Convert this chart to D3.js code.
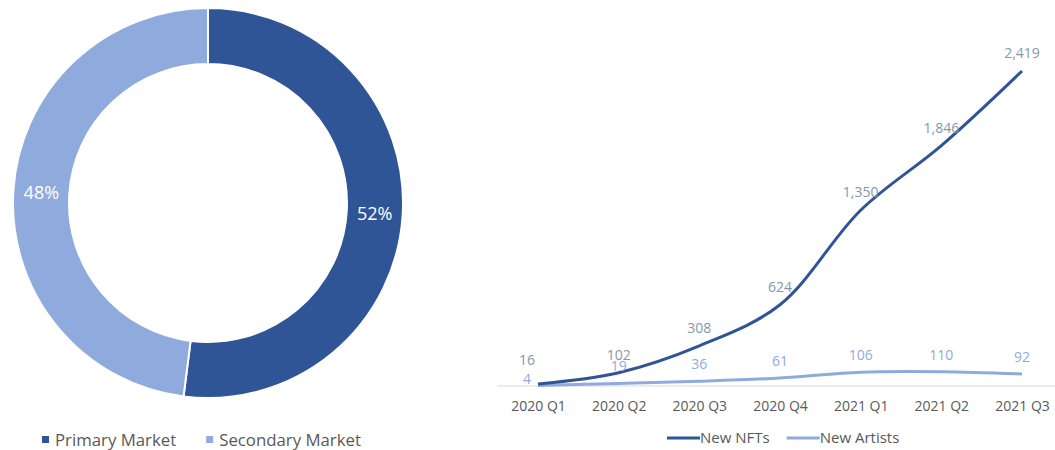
<!DOCTYPE html>
<html>
<head>
<meta charset="utf-8">
<script src="https://cdn.jsdelivr.net/npm/d3@7"></script>
<style>
  body { margin: 0; background: #fff; }
  svg { font-family: "Open Sans", sans-serif; }
</style>
</head>
<body>
<div id="chart"></div>
<script>
// Market share (donut)
const marketNames = ['Primary Market', 'Secondary Market'];
const marketShares = [52, 48];

// Quarterly growth (lines)
const quarters = ['2020 Q1', '2020 Q2', '2020 Q3', '2020 Q4', '2021 Q1', '2021 Q2', '2021 Q3'];
const newNFTs = [16, 102, 308, 624, 1350, 1846, 2419];
const newArtists = [4, 19, 36, 61, 106, 110, 92];

const dark = '#2F5597';
const light = '#8FAADC';
const textGray = '#595959';

const svg = d3.select('#chart')
  .append('svg')
  .attr('width', 1055)
  .attr('height', 450);

// ---- Donut ----
const donut = svg.append('g')
  .attr('transform', 'translate(208,203)');

const pie = d3.pie().sort(null).value(d => d);
const arc = d3.arc().innerRadius(139).outerRadius(195);
const labelArc = d3.arc().innerRadius(167).outerRadius(167);
const donutColor = d3.scaleOrdinal().domain(marketNames).range([dark, light]);

const arcs = pie(marketShares);

donut.selectAll('path')
  .data(arcs)
  .enter()
  .append('path')
  .attr('d', arc)
  .attr('fill', (d, i) => donutColor(marketNames[i]))
  .attr('stroke', '#fff')
  .attr('stroke-width', 2);

donut.selectAll('.slice-label')
  .data(arcs)
  .enter()
  .append('text')
  .attr('class', 'slice-label')
  .attr('transform', d => `translate(${labelArc.centroid(d)})`)
  .attr('text-anchor', 'middle')
  .attr('dy', '0.35em')
  .attr('fill', '#fff')
  .style('font-size', '18px')
  .text(d => d.data + '%');

// donut legend
const pieLegend = svg.append('g')
  .attr('transform', 'translate(42,440)');

let lx = 0;
marketNames.forEach((name, i) => {
  const item = pieLegend.append('g').attr('transform', `translate(${lx},0)`);
  item.append('rect')
    .attr('x', 0).attr('y', -4)
    .attr('width', 7).attr('height', 7)
    .attr('fill', donutColor(name));
  const t = item.append('text')
    .attr('x', 13)
    .attr('dy', '0.35em')
    .attr('fill', textGray)
    .style('font-size', '16.8px')
    .text(name);
  lx += 13 + t.node().getComputedTextLength() + 30;
});

// ---- Line chart ----
const x = d3.scalePoint()
  .domain(quarters)
  .range([538, 1022]);

const y = d3.scaleLinear()
  .domain([0, 2419])
  .range([386, 71]);

// axis baseline
svg.append('line')
  .attr('x1', 497).attr('x2', 1055)
  .attr('y1', y(0)).attr('y2', y(0))
  .attr('stroke', '#D9D9D9')
  .attr('stroke-width', 1);

const xAxis = svg.append('g')
  .attr('transform', `translate(0,${y(0)})`)
  .call(d3.axisBottom(x).tickSize(0).tickPadding(15));
xAxis.select('.domain').remove();
xAxis.selectAll('text')
  .attr('fill', textGray)
  .style('font-size', '14px')
  .style('font-family', '"Open Sans", sans-serif');

const line = d3.line()
  .x((d, i) => x(quarters[i]))
  .y(d => y(d))
  .curve(d3.curveCatmullRom.alpha(0.5));

svg.append('path')
  .datum(newArtists)
  .attr('fill', 'none')
  .attr('stroke', light)
  .attr('stroke-width', 3)
  .attr('d', line);

svg.append('path')
  .datum(newNFTs)
  .attr('fill', 'none')
  .attr('stroke', dark)
  .attr('stroke-width', 3)
  .attr('d', line);

const fmt = d3.format(',');

// data labels
svg.selectAll('.nft-label')
  .data(newNFTs)
  .enter()
  .append('text')
  .attr('class', 'nft-label')
  .attr('x', (d, i) => x(quarters[i]) - (i === 0 ? 11 : 0))
  .attr('y', (d, i) => y(d) - (i === 0 ? 24 : 18))
  .attr('dy', '0.35em')
  .attr('text-anchor', 'middle')
  .attr('fill', '#8497B0')
  .style('font-size', '14px')
  .text(d => fmt(d));

svg.selectAll('.artist-label')
  .data(newArtists)
  .enter()
  .append('text')
  .attr('class', 'artist-label')
  .attr('x', (d, i) => x(quarters[i]) - (i === 0 ? 11 : 0))
  .attr('y', (d, i) => y(d) - (i === 0 ? 6 : 17))
  .attr('dy', '0.35em')
  .attr('text-anchor', 'middle')
  .attr('fill', light)
  .style('font-size', '14px')
  .text(d => fmt(d));

// line legend
const lineLegend = svg.append('g')
  .attr('transform', 'translate(667,438)');
const seriesNames = ['New NFTs', 'New Artists'];
const seriesColors = [dark, light];
let sx = 0;
seriesNames.forEach((name, i) => {
  const item = lineLegend.append('g').attr('transform', `translate(${sx},0)`);
  item.append('line')
    .attr('x1', 0).attr('x2', 33)
    .attr('stroke', seriesColors[i])
    .attr('stroke-width', 3);
  const t = item.append('text')
    .attr('x', 33)
    .attr('dy', '0.35em')
    .attr('fill', textGray)
    .style('font-size', '15px')
    .text(name);
  sx += 33 + t.node().getComputedTextLength() + 17;
});
</script>
</body>
</html>
